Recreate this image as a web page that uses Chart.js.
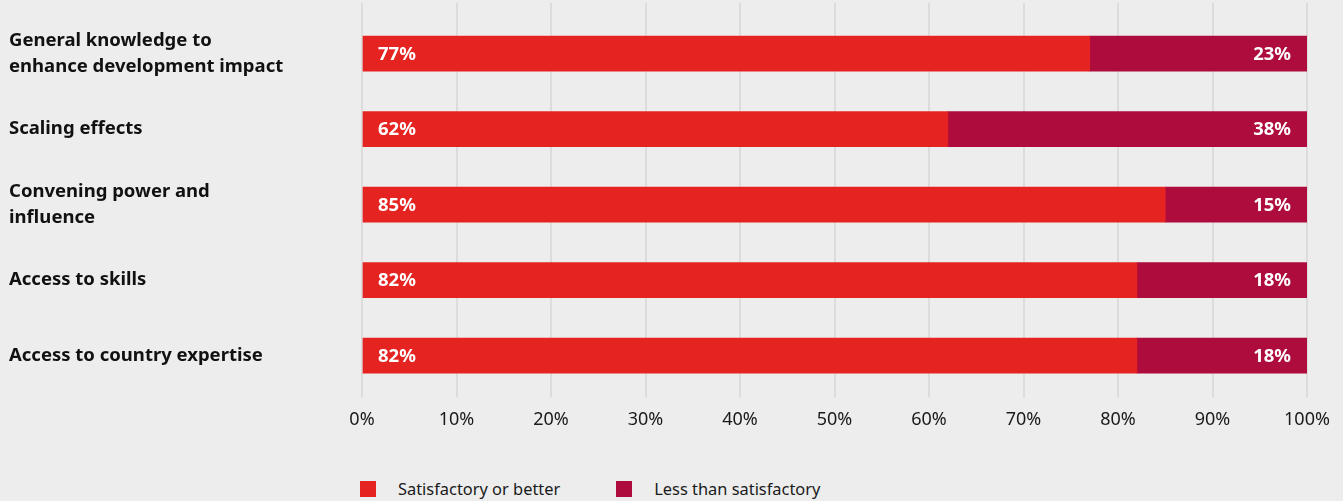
<!DOCTYPE html>
<html>
<head>
<meta charset="utf-8">
<script src="https://cdn.jsdelivr.net/npm/chart.js@4/dist/chart.umd.min.js"></script>
<style>
    html, body { margin: 0; padding: 0; background: #ededed; }
    body { width: 1343px; height: 501px; position: relative; overflow: hidden; font-family: "Noto Sans", "Open Sans", sans-serif; }
    .wrap { position: absolute; left: 0; top: 0; width: 1343px; height: 443px; }
    .legend { position: absolute; left: 360px; top: 477px; display: flex; font-size: 16.4px; color: #1a1a1a; }
    .legend .item { display: flex; align-items: center; margin-right: 56px; }
    .legend .box { width: 16px; height: 16px; margin-right: 22px; }
</style>
</head>
<body>
<div class="wrap"><canvas id="chart"></canvas></div>
<div class="legend" id="legend"></div>
<script>
    const categories = [
        ["General knowledge to", "enhance development impact"],
        "Scaling effects",
        ["Convening power and", "influence"],
        "Access to skills",
        "Access to country expertise"
    ];
    const satisfactory = [77, 62, 85, 82, 82];
    const lessThan = [23, 38, 15, 18, 18];
    const seriesNames = ["Satisfactory or better", "Less than satisfactory"];
    const xTicks = [0, 10, 20, 30, 40, 50, 60, 70, 80, 90, 100];

    const RED = "#e52421";
    const WINE = "#ad0c3c";
    const GRID = "#dcdcdc";
    const FONT = "'Noto Sans', 'Open Sans', sans-serif";

    // white percentage labels inside the bars
    const barLabels = {
        id: "barLabels",
        afterDatasetsDraw(chart) {
            const ctx = chart.ctx;
            ctx.save();
            ctx.font = "bold 18.5px " + FONT;
            ctx.fillStyle = "#ffffff";
            ctx.textBaseline = "middle";
            chart.data.datasets.forEach((ds, i) => {
                chart.getDatasetMeta(i).data.forEach((bar, j) => {
                    const text = ds.data[j] + "%";
                    if (i === 0) {
                        ctx.textAlign = "left";
                        ctx.fillText(text, bar.base + 15, bar.y + 1);
                    } else {
                        ctx.textAlign = "right";
                        ctx.fillText(text, bar.x - 16, bar.y + 1);
                    }
                });
            });
            ctx.restore();
        }
    };

    const chart = new Chart(document.getElementById("chart"), {
        type: "bar",
        data: {
            labels: categories,
            datasets: [
                { label: seriesNames[0], data: satisfactory, backgroundColor: RED, barThickness: 35 },
                { label: seriesNames[1], data: lessThan, backgroundColor: WINE, barThickness: 35 }
            ]
        },
        options: {
            indexAxis: "y",
            responsive: true,
            maintainAspectRatio: false,
            animation: false,
            layout: { padding: { left: 9, right: 36, top: 0, bottom: 0 } },
            plugins: {
                legend: { display: false },
                tooltip: { enabled: false }
            },
            scales: {
                x: {
                    stacked: true,
                    min: 0,
                    max: 100,
                    afterBuildTicks: scale => { scale.ticks = xTicks.map(v => ({ value: v })); },
                    border: { display: false },
                    grid: { color: GRID, lineWidth: 2, tickLength: 4, tickColor: GRID },
                    ticks: {
                        padding: 12,
                        color: "#1a1a1a",
                        font: { family: FONT, size: 18 },
                        callback: v => v + "%"
                    }
                },
                xTop: {
                    type: "linear",
                    position: "top",
                    axis: "x",
                    min: 0,
                    max: 100,
                    afterBuildTicks: scale => { scale.ticks = xTicks.map(v => ({ value: v })); },
                    border: { display: false },
                    grid: { drawOnChartArea: false, color: GRID, lineWidth: 2, tickLength: 13 },
                    ticks: { display: false }
                },
                y: {
                    stacked: true,
                    border: { display: false },
                    grid: { display: false },
                    afterFit: scale => { scale.width = 353; },
                    ticks: {
                        crossAlign: "far",
                        color: "#111111",
                        font: { family: FONT, size: 18.5, weight: "bold", lineHeight: 1.4 }
                    }
                }
            }
        },
        plugins: [barLabels]
    });

    const legend = document.getElementById("legend");
    chart.data.datasets.forEach(ds => {
        const item = document.createElement("div");
        item.className = "item";
        const box = document.createElement("span");
        box.className = "box";
        box.style.background = ds.backgroundColor;
        const label = document.createElement("span");
        label.textContent = ds.label;
        item.appendChild(box);
        item.appendChild(label);
        legend.appendChild(item);
    });
</script>
</body>
</html>
